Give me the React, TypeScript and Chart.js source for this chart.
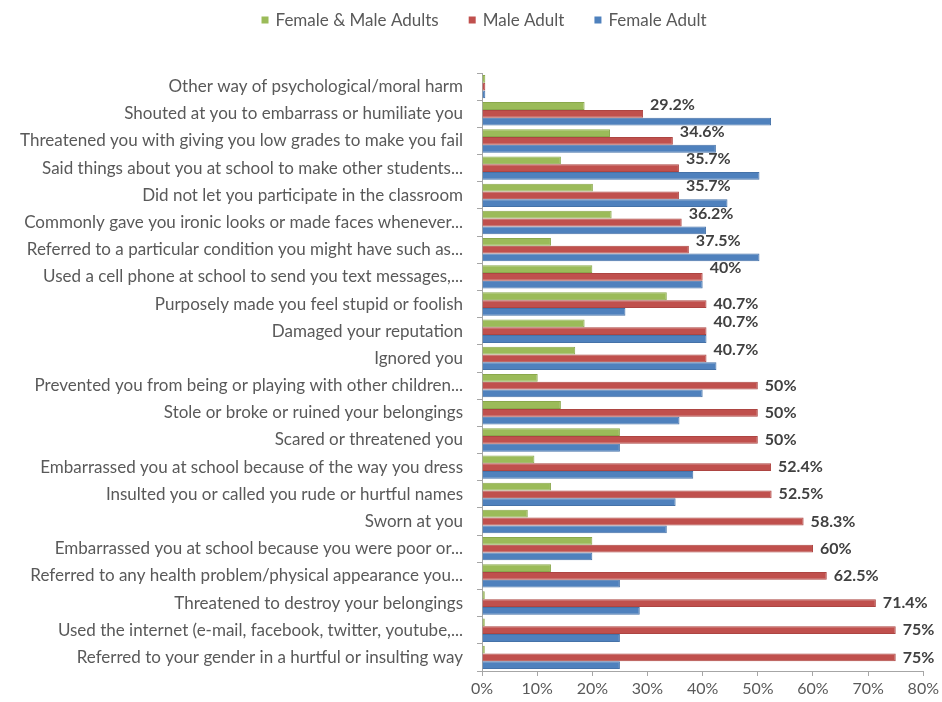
import React, { useEffect, useRef } from "react";
import { Chart, registerables } from "chart.js";

Chart.register(...registerables);

const categories = [
  "Other way of psychological/moral harm",
  "Shouted at you to embarrass or humiliate you",
  "Threatened you with giving you low grades to make you fail",
  "Said things about you at school to make other students...",
  "Did not let you participate in the classroom",
  "Commonly gave you ironic looks or made faces whenever...",
  "Referred to a particular condition you might have such as...",
  "Used a cell phone at school to send you text messages,...",
  "Purposely made you feel stupid or foolish",
  "Damaged your reputation",
  "Ignored you",
  "Prevented you from being or playing with other children...",
  "Stole or broke or ruined your belongings",
  "Scared or threatened you",
  "Embarrassed you at school because of the way you dress",
  "Insulted you or called you rude or hurtful names",
  "Sworn at you",
  "Embarrassed you at school because you were poor or...",
  "Referred to any health problem/physical appearance you...",
  "Threatened to destroy your belongings",
  "Used the internet (e-mail, facebook, twitter, youtube,...",
  "Referred to your gender in a hurtful or insulting way",
];

const seriesNames = ["Female & Male Adults", "Male Adult", "Female Adult"];

const bothAdults = [0.6, 18.6, 23.2, 14.3, 20.1, 23.5, 12.5, 20, 33.5, 18.6, 16.9, 10.1, 14.3, 25, 9.5, 12.5, 8.3, 20, 12.5, 0.5, 0.5, 0.5];
const maleAdult = [0.6, 29.2, 34.6, 35.7, 35.7, 36.2, 37.5, 40, 40.7, 40.7, 40.7, 50, 50, 50, 52.4, 52.5, 58.3, 60, 62.5, 71.4, 75, 75];
const femaleAdult = [0.6, 52.4, 42.4, 50.3, 44.5, 40.6, 50.3, 40, 26, 40.7, 42.5, 40, 35.8, 25, 38.3, 35.1, 33.5, 20, 25, 28.6, 25, 25];
const maleLabels = ["", "29.2%", "34.6%", "35.7%", "35.7%", "36.2%", "37.5%", "40%", "40.7%", "40.7%", "40.7%", "50%", "50%", "50%", "52.4%", "52.5%", "58.3%", "60%", "62.5%", "71.4%", "75%", "75%"];
const xTicks = [0, 10, 20, 30, 40, 50, 60, 70, 80];

const colors = ["#9BBB59", "#C0504D", "#4F81BD"];
const borders = ["#8AA84C", "#AD4542", "#4572A8"];
const FONT = "Lato, 'Open Sans', sans-serif";

const legendPlugin = {
  id: "customLegend",
  afterDraw(chart: any) {
    const ctx = chart.ctx;
    ctx.save();
    ctx.font = `17px ${FONT}`;
    ctx.textBaseline = "middle";
    const y = 20;
    const gap = 30;
    const box = 7;
    const widths = seriesNames.map((n) => ctx.measureText(n).width + box + 7);
    const total = widths.reduce((a, b) => a + b, 0) + gap * (seriesNames.length - 1);
    let x = 484 - total / 2;
    seriesNames.forEach((n, i) => {
      ctx.fillStyle = colors[i];
      ctx.fillRect(x, y - box / 2, box, box);
      ctx.fillStyle = "#595959";
      ctx.textAlign = "left";
      ctx.fillText(n, x + box + 7, y + 1);
      x += widths[i] + gap;
    });
    ctx.restore();
  },
};

const labelPlugin = {
  id: "valueLabels",
  afterDatasetsDraw(chart: any) {
    const ctx = chart.ctx;
    const meta = chart.getDatasetMeta(1);
    ctx.save();
    ctx.font = `bold 16px ${FONT}`;
    ctx.fillStyle = "#404040";
    ctx.textAlign = "left";
    ctx.textBaseline = "middle";
    meta.data.forEach((el: any, i: number) => {
      const t = maleLabels[i];
      if (!t) return;
      const shift = femaleAdult[i] >= maleAdult[i] - 0.5 ? -9 : 0;
      ctx.fillText(t, el.x + 7, el.y + shift);
    });
    ctx.restore();
  },
};

export default function App() {
  const ref = useRef<HTMLCanvasElement>(null);
  useEffect(() => {
    document.body.style.margin = "0";
    const chart = new Chart(ref.current!, {
      type: "bar",
      data: {
        labels: categories,
        datasets: [bothAdults, maleAdult, femaleAdult].map((d, i) => ({
          label: seriesNames[i],
          data: d,
          backgroundColor: colors[i],
          borderColor: borders[i],
          borderWidth: 1,
          categoryPercentage: 0.86,
          barPercentage: 1.0,
        })),
      },
      options: {
        indexAxis: "y",
        animation: false,
        responsive: false,
        layout: { padding: { top: 73, right: 18, bottom: 0, left: 0 } },
        plugins: {
          legend: { display: false },
          tooltip: { enabled: false },
        },
        scales: {
          x: {
            min: 0,
            max: 80,
            afterBuildTicks(scale: any) {
              scale.ticks = xTicks.map((v) => ({ value: v }));
            },
            afterFit(scale: any) {
              scale.height = 31;
            },
            grid: {
              drawOnChartArea: false,
              drawTicks: true,
              tickLength: 5,
              color: "#a6a6a6",
            },
            border: { color: "#a6a6a6" },
            ticks: {
              padding: 3,
              color: "#595959",
              font: { family: FONT, size: 16 },
              callback: (v: any) => v + "%",
            },
          },
          y: {
            afterFit(scale: any) {
              scale.width = 482;
            },
            grid: {
              drawOnChartArea: false,
              drawTicks: true,
              tickLength: 5,
              offset: true,
              color: "#a6a6a6",
            },
            border: { color: "#a6a6a6" },
            ticks: {
              padding: 14,
              color: "#595959",
              autoSkip: false,
              font: { family: FONT, size: 17 },
            },
          },
        },
      },
      plugins: [legendPlugin, labelPlugin],
    });
    return () => chart.destroy();
  }, []);
  return (
    <div style={{ position: "relative", width: 942, height: 702, background: "#fff" }}>
      <canvas ref={ref} width={942} height={702} style={{ width: 942, height: 702 }} />
    </div>
  );
}
